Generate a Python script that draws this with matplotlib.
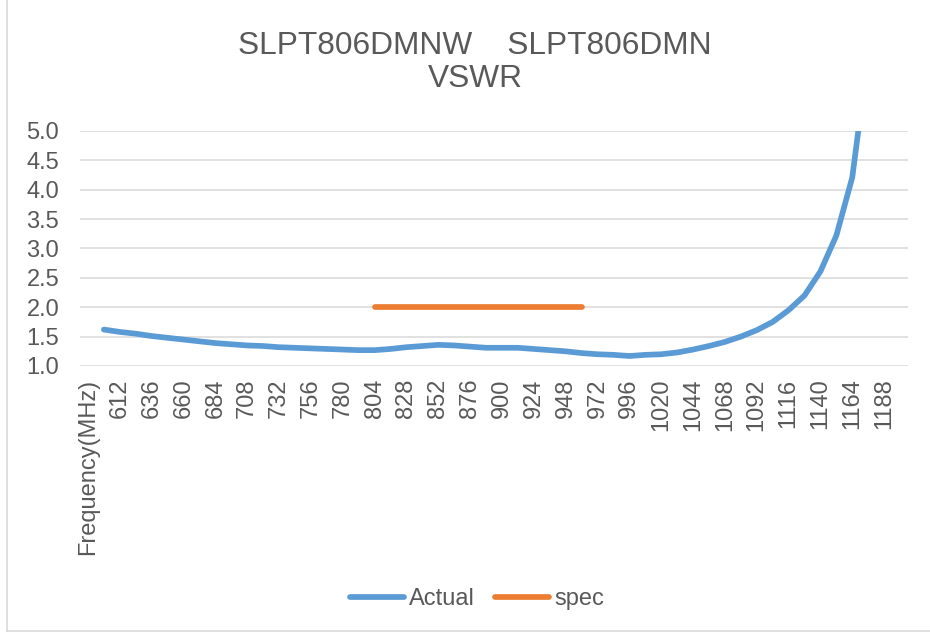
import matplotlib
matplotlib.use('Agg')
import matplotlib.pyplot as plt
from matplotlib.lines import Line2D

plt.rcParams['font.family'] = ['Liberation Sans', 'DejaVu Sans']

# categories: header cell counts as the first category in the source sheet
freqs = [600, 612, 624, 636, 648, 660, 672, 684, 696, 708, 720, 732, 744,
         756, 768, 780, 792, 804, 816, 828, 840, 852, 864, 876, 888, 900,
         912, 924, 936, 948, 960, 972, 984, 996, 1008, 1020, 1032, 1044,
         1056, 1068, 1080, 1092, 1104, 1116, 1128, 1140, 1152, 1164, 1176,
         1188, 1200]
categories = ['Frequency(MHz)'] + [str(f) for f in freqs]

actual_freqs = freqs[:49]
actual_vswr = [1.62, 1.58, 1.55, 1.51, 1.48, 1.45, 1.42, 1.39, 1.37, 1.35,
               1.34, 1.32, 1.31, 1.30, 1.29, 1.28, 1.27, 1.27, 1.29, 1.32,
               1.34, 1.36, 1.35, 1.33, 1.31, 1.31, 1.31, 1.29, 1.27, 1.25,
               1.22, 1.20, 1.19, 1.17, 1.19, 1.20, 1.23, 1.28, 1.34, 1.41,
               1.50, 1.61, 1.75, 1.95, 2.20, 2.61, 3.22, 4.21, 6.3]

spec_freqs = [804, 816, 828, 840, 852, 864, 876, 888, 900, 912, 924, 936,
              948, 960]
spec_vswr = [2.0] * len(spec_freqs)

y_ticks = [1.0, 1.5, 2.0, 2.5, 3.0, 3.5, 4.0, 4.5, 5.0]

BLUE = '#5B9BD5'
ORANGE = '#ED7D31'
GRID = '#D9D9D9'
TEXT = '#595959'
FS = 17


def cat_pos(values):
    return [categories.index(str(v)) for v in values]


fig = plt.figure(figsize=(9.3, 6.34), dpi=100)
ax = fig.add_axes([80 / 930, 1 - 366 / 634, 828 / 930, 235 / 634])

ax.plot(cat_pos(actual_freqs), actual_vswr, color=BLUE, linewidth=4.1,
        solid_capstyle='round', solid_joinstyle='round', label='Actual')
ax.plot(cat_pos(spec_freqs), spec_vswr, color=ORANGE, linewidth=4.1,
        solid_capstyle='round', label='spec')

ax.set_xlim(-0.5, len(categories) - 0.5)
ax.set_ylim(1.0, 5.0)
ax.set_yticks(y_ticks)
ax.set_yticklabels([f'{v:.1f}' for v in y_ticks])
tick_idx = list(range(0, len(categories), 2))
ax.set_xticks(tick_idx)
ax.set_xticklabels([categories[i] for i in tick_idx], rotation=90)

ax.grid(True, axis='y', color=GRID, linewidth=1.1)
ax.set_axisbelow(True)
for side in ['top', 'right', 'left', 'bottom']:
    ax.spines[side].set_visible(False)
ax.tick_params(axis='y', length=0, pad=15, labelsize=FS, labelcolor=TEXT)
ax.tick_params(axis='x', length=0, pad=9, labelsize=FS, labelcolor=TEXT)

fig.text(475 / 930, 1 - 46 / 634, 'SLPT806DMNW    SLPT806DMN',
         ha='center', va='center', fontsize=22.8, color=TEXT)
fig.text(475 / 930, 1 - 79 / 634, 'VSWR', ha='center', va='center',
         fontsize=22.8, color=TEXT)

fig.legend(loc='center', bbox_to_anchor=(477 / 930, 1 - 599 / 634), ncol=2,
           frameon=False, fontsize=FS, labelcolor=TEXT, handlelength=2.3,
           handletextpad=0.2, columnspacing=0.85)

# chart area border (left and bottom edges visible in the crop)
fig.add_artist(Line2D([7 / 930, 7 / 930], [1 - 631 / 634, 1], color=GRID,
                      linewidth=1.2))
fig.add_artist(Line2D([7 / 930, 1], [1 - 631 / 634, 1 - 631 / 634],
                      color=GRID, linewidth=1.2))

fig.savefig('out.png', dpi=100)
